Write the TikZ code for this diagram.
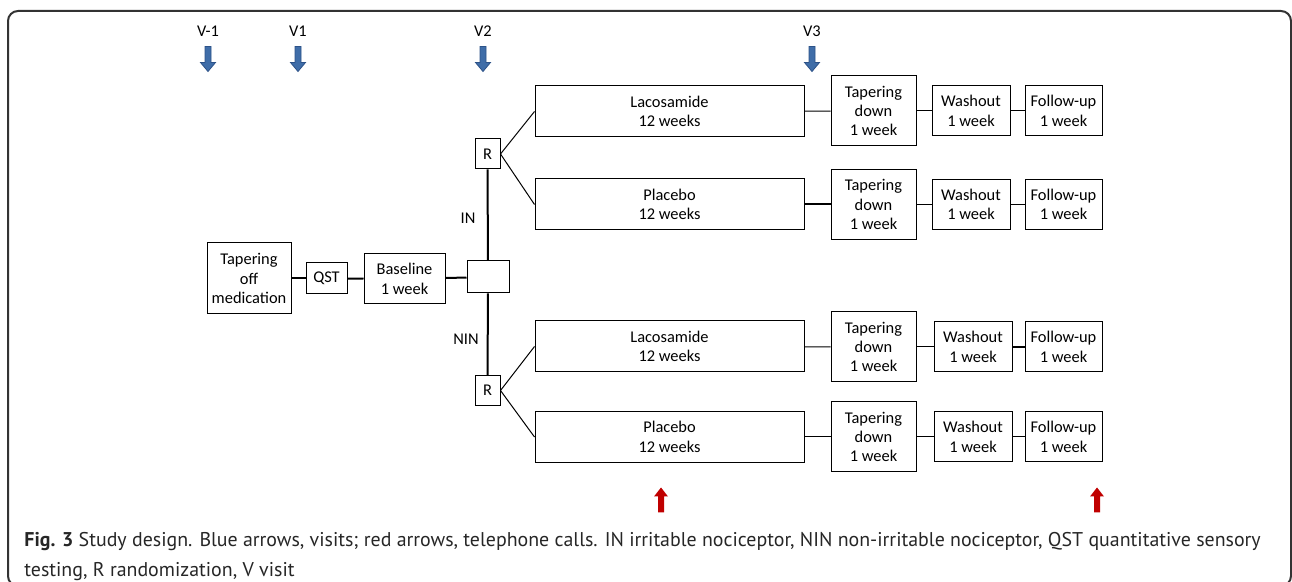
\documentclass[tikz,border=0pt]{standalone}
\usepackage{fontspec}
\setmainfont{Carlito}
\newfontfamily\capfont{PT Sans}
\usetikzlibrary{positioning}

\definecolor{visitblue}{HTML}{3F6DA8}
\definecolor{visitedge}{HTML}{2C5288}
\definecolor{callred}{HTML}{C00000}
\definecolor{framegray}{HTML}{333333}

\begin{document}
\begin{tikzpicture}[x=0.5pt,y=-0.5pt,
	box/.style={draw,line width=0.5pt,align=center,inner sep=1pt,font=\fontsize{8.2}{9.7}\selectfont},
	arm/.style={box,minimum width=134.5pt,minimum height=25.5pt},
	taper/.style={box,minimum width=42.5pt,minimum height=35pt},
	wash/.style={box,minimum width=39pt,minimum height=25pt},
	follow/.style={box,minimum width=38.5pt,minimum height=25pt},
	rand/.style={box,minimum width=12.5pt,minimum height=15pt},
	link/.style={line width=0.5pt},
	trunk/.style={line width=1pt},
	lbl/.style={font=\fontsize{8.2}{9.7}\selectfont,inner sep=0pt},
	pics/visit/.style={code={
		\filldraw[fill=visitblue,draw=visitedge,line width=0.4pt]
			(-3,-12.5) -- (3,-12.5) -- (3,3.5) -- (7.5,3.5) -- (0,12.5) -- (-7.5,3.5) -- (-3,3.5) -- cycle;}},
	pics/call/.style={code={
		\fill[callred]
			(-3,12.5) -- (3,12.5) -- (3,-3.5) -- (7,-3.5) -- (0,-12.5) -- (-7,-3.5) -- (-3,-3.5) -- cycle;}}
]
	\useasboundingbox (0,0) rectangle (1292,582);
	\draw[framegray,line width=1pt,rounded corners=5pt] (8,11) rectangle (1291,586);

	% visits
	\node[lbl] (v0) at (208,31) {V-1};
	\node[lbl] (v1) at (298,31) {V1};
	\node[lbl] (v2) at (483,31) {V2};
	\node[lbl] (v3) at (812,31) {V3};
	\pic at (208,59) {visit};
	\pic at (298,59) {visit};
	\pic at (483,59) {visit};
	\pic at (812,59) {visit};

	% telephone calls
	\pic at (661,500) {call};
	\pic at (1097,500) {call};

	% screening
	\node[box,minimum width=42pt,minimum height=35.5pt] (taperoff) at (249,278.5) {Tapering\\off\\medication};
	\node[box,minimum width=20.5pt,minimum height=15.5pt] (qst) at (326.5,278.5) {QST};
	\node[box,minimum width=40.5pt,minimum height=25pt] (base) at (404.5,279) {Baseline\\1 week};
	\node[draw,line width=0.5pt,minimum width=21pt,minimum height=16pt,inner sep=0pt] (hub) at (488,277) {};
	\node[rand] (rIN) at (487.5,154) {R};
	\node[rand] (rNIN) at (487.5,390.5) {R};
	\node[lbl] (in) at (468,218) {IN};
	\node[lbl] (nin) at (466,339) {NIN};

	% IN arms
	\node[arm] (lacIN) at (669.5,111.5) {Lacosamide\\12 weeks};
	\node[taper] (tapLacIN) at (873.5,111) {Tapering\\down\\1 week};
	\node[wash] (washLacIN) at (971,111) {Washout\\1 week};
	\node[follow] (folLacIN) at (1063.5,111) {Follow-up\\1 week};
	\node[arm] (plaIN) at (669.5,204.5) {Placebo\\12 weeks};
	\node[taper] (tapPlaIN) at (873.5,204.5) {Tapering\\down\\1 week};
	\node[wash] (washPlaIN) at (971,204.5) {Washout\\1 week};
	\node[follow] (folPlaIN) at (1063.5,204.5) {Follow-up\\1 week};

	% NIN arms
	\node[arm] (lacNIN) at (669.5,346.5) {Lacosamide\\12 weeks};
	\node[taper] (tapLacNIN) at (873.5,347) {Tapering\\down\\1 week};
	\node[wash] (washLacNIN) at (973,347) {Washout\\1 week};
	\node[follow] (folLacNIN) at (1063.5,347) {Follow-up\\1 week};
	\node[arm] (plaNIN) at (669.5,437) {Placebo\\12 weeks};
	\node[taper] (tapPlaNIN) at (873.5,437) {Tapering\\down\\1 week};
	\node[wash] (washPlaNIN) at (973,437) {Washout\\1 week};
	\node[follow] (folPlaNIN) at (1063.5,437) {Follow-up\\1 week};

	% connectors
	\draw[trunk] (taperoff) -- (qst);
	\draw[trunk] (qst) -- (base);
	\draw[trunk] (base) -- (hub);
	\draw[trunk] (rIN) -- (hub);
	\draw[trunk] (hub) -- (rNIN);
	\draw[link] (rIN.east) -- (lacIN.west);
	\draw[link] (rIN.east) -- (plaIN.west);
	\draw[link] (rNIN.east) -- (lacNIN.west);
	\draw[link] (rNIN.east) -- (plaNIN.west);
	\draw[link] (lacIN) -- (tapLacIN);
	\draw[link] (tapLacIN) -- (washLacIN);
	\draw[link] (washLacIN) -- (folLacIN);
	\draw[trunk] (plaIN) -- (tapPlaIN);
	\draw[link] (tapPlaIN) -- (washPlaIN);
	\draw[link] (washPlaIN) -- (folPlaIN);
	\draw[link] (lacNIN) -- (tapLacNIN);
	\draw[link] (tapLacNIN) -- (washLacNIN);
	\draw[trunk] (washLacNIN) -- (folLacNIN);
	\draw[link] (plaNIN) -- (tapPlaNIN);
	\draw[link] (tapPlaNIN) -- (washPlaNIN);
	\draw[link] (washPlaNIN) -- (folPlaNIN);

	% caption
	\node[anchor=north west,inner sep=0pt,align=left,text=black!85,
		font=\capfont\fontsize{9.95}{14.8}\selectfont] (caption) at (24,532)
		{\textbf{Fig. 3} Study design. Blue arrows, visits; red arrows, telephone calls. IN irritable nociceptor, NIN non-irritable nociceptor, QST quantitative sensory\\
		testing, R randomization, V visit};
\end{tikzpicture}
\end{document}
